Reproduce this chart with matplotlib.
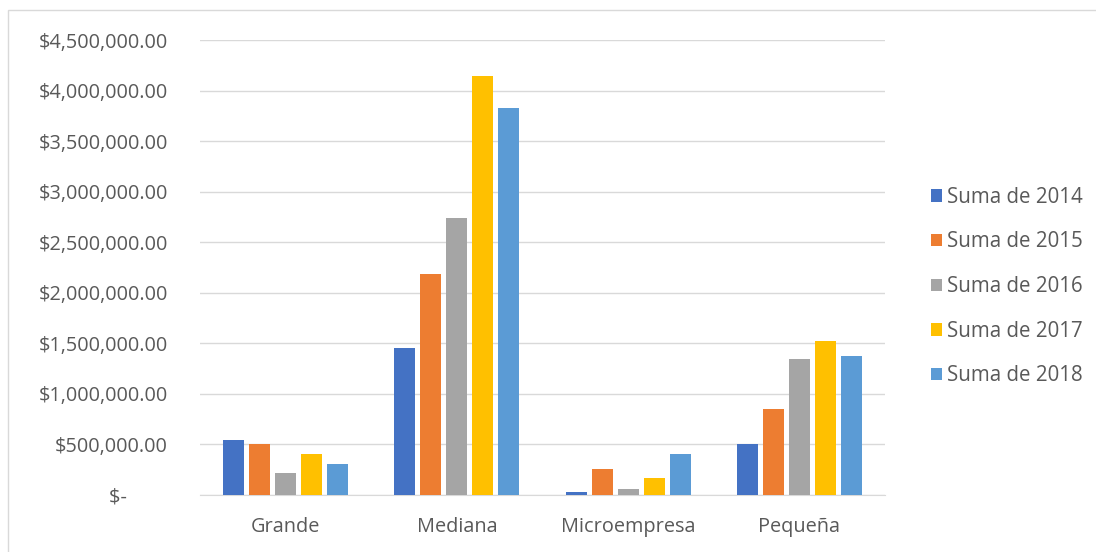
import matplotlib
matplotlib.use("Agg")
import matplotlib.pyplot as plt
from matplotlib.patches import Rectangle
from matplotlib.ticker import FuncFormatter
import numpy as np

plt.rcParams['font.family'] = ['Open Sans', 'DejaVu Sans']

categories = ['Grande', 'Mediana', 'Microempresa', 'Pequeña']
series_names = ['Suma de 2014', 'Suma de 2015', 'Suma de 2016', 'Suma de 2017', 'Suma de 2018']
suma_2014 = [548000, 1454000, 28000, 505000]
suma_2015 = [505000, 2182000, 262000, 855000]
suma_2016 = [222000, 2738000, 64000, 1345000]
suma_2017 = [403000, 4141000, 166000, 1520000]
suma_2018 = [304000, 3829000, 410000, 1378000]
colors = ['#4472C4', '#ED7D31', '#A5A5A5', '#FFC000', '#5B9BD5']

TEXT = '#595959'
GRID = '#d9d9d9'
FS = 14.3

fig = plt.figure(figsize=(10.96, 5.52), dpi=100)
fig.patches.append(Rectangle((8 / 1096, -0.01), 1.02, 1 - 10 / 552 + 0.01,
                             transform=fig.transFigure, fill=False,
                             edgecolor='#d9d9d9', linewidth=1))
ax = fig.add_axes([200 / 1096, 1 - 495 / 552, 685 / 1096, 455 / 552])

x = np.arange(len(categories))
width = 0.123
step = 0.152
all_series = [suma_2014, suma_2015, suma_2016, suma_2017, suma_2018]
for i, (vals, name, c) in enumerate(zip(all_series, series_names, colors)):
    ax.bar(x + (i - 2) * step, vals, width, color=c, label=name, zorder=3)

ax.set_xlim(-0.5, 3.5)
ax.set_ylim(0, 4500000)
ax.set_yticks(np.arange(0, 4500001, 500000))


def money(v, pos):
    if v == 0:
        return '$-        '
    return '${:,.2f}'.format(v)


ax.yaxis.set_major_formatter(FuncFormatter(money))
ax.set_xticks(x)
ax.set_xticklabels(categories)
ax.grid(axis='y', color=GRID, linewidth=1, zorder=0)
for s in ['top', 'right', 'left']:
    ax.spines[s].set_visible(False)
ax.spines['bottom'].set_color(GRID)
ax.tick_params(axis='both', length=0, colors=TEXT, labelsize=FS)
ax.tick_params(axis='y', pad=23)
ax.tick_params(axis='x', pad=16)

leg = ax.legend(loc='center left', bbox_to_anchor=(1.04, 0.458), frameon=False,
                fontsize=14.8, handlelength=0.55, handleheight=0.55,
                handletextpad=0.25, labelspacing=1.15)
for t in leg.get_texts():
    t.set_color(TEXT)

fig.savefig('out.png', dpi=100)
